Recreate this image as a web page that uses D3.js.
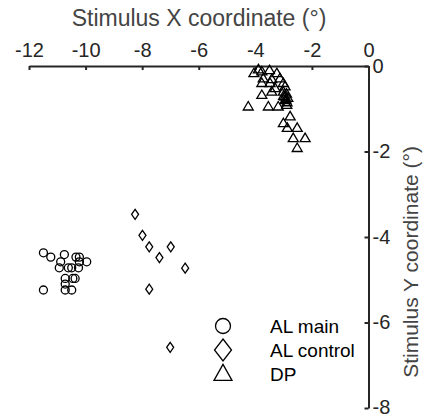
<!DOCTYPE html>
<html><head><meta charset="utf-8">
<script src="https://cdn.jsdelivr.net/npm/d3@7"></script>
<style>body{margin:0;background:#fff}svg{display:block}text{font-family:"Liberation Sans",Arial,sans-serif}</style>
</head><body><svg id="c" width="429" height="418"></svg>
<script>
const xTicks = [-12,-10,-8,-6,-4,-2,0];
const yTicks = [0,-2,-4,-6,-8];
const seriesNames = ["AL main","AL control","DP"];
const alMainX = [-11.49,-11.23,-10.75,-10.88,-10.34,-10.22,-9.96,-10.22,-10.93,-10.61,-10.49,-10.25,-10.72,-10.45,-10.37,-10.72,-10.72,-10.49,-11.49];
const alMainY = [-4.37,-4.47,-4.41,-4.58,-4.47,-4.47,-4.58,-4.58,-4.72,-4.72,-4.72,-4.72,-4.97,-4.97,-4.97,-5.10,-5.24,-5.24,-5.24];
const alCtrlX = [-8.25,-7.99,-7.75,-6.99,-7.39,-6.48,-7.75,-7.01];
const alCtrlY = [-3.47,-3.96,-4.23,-4.23,-4.48,-4.73,-5.22,-6.58];
const dpX = [-3.89,-3.50,-4.05,-3.77,-3.24,-3.72,-3.42,-3.13,-3.77,-3.48,-3.01,-3.30,-2.95,-3.77,-3.42,-3.01,-2.95,-4.25,-3.54,-3.19,-2.89,-2.77,-3.01,-2.87,-2.52,-2.66,-2.24,-2.52,-2.90,-2.85,-2.95,-2.88,-3.00,-2.92];
const dpY = [-0.08,-0.10,-0.17,-0.13,-0.17,-0.29,-0.31,-0.29,-0.40,-0.40,-0.40,-0.52,-0.48,-0.68,-0.60,-0.60,-0.72,-0.95,-0.95,-0.95,-0.91,-1.18,-1.34,-1.45,-1.45,-1.69,-1.69,-1.92,-0.65,-0.75,-0.80,-0.85,-0.70,-0.78];

const svg = d3.select("#c");
const x = d3.scaleLinear().domain([-12,0]).range([29,368.5]);
const y = d3.scaleLinear().domain([0,-8]).range([66,408]);
const axCol = "#262626";
const fmt = d => String(d);

const gx = svg.append("g").attr("transform",`translate(0,${y(0)})`)
  .call(d3.axisTop(x).tickValues(xTicks).tickFormat(fmt).tickSizeInner(-4).tickSizeOuter(0).tickPadding(9));
const gy = svg.append("g").attr("transform",`translate(${x(0)},0)`)
  .call(d3.axisRight(y).tickValues(yTicks).tickFormat(fmt).tickSizeInner(-4).tickSizeOuter(0).tickPadding(4));
[gx,gy].forEach(g=>{
  g.select(".domain").attr("stroke",axCol).attr("stroke-width",2);
  g.selectAll(".tick line").attr("stroke",axCol).attr("stroke-width",2);
  g.selectAll(".tick text").attr("fill",axCol).style("font-size","20px").style("font-family","Liberation Sans, Arial, sans-serif");
});
gy.selectAll(".tick text").filter(d=>d===-8).attr("dy","0.25em");

svg.append("text").attr("x",199).attr("y",26).attr("text-anchor","middle")
  .attr("fill","#444").style("font-size","23px").text("Stimulus X coordinate (°)");
svg.append("text").attr("transform",`translate(418,262) rotate(-90)`).attr("text-anchor","middle")
  .attr("fill","#444").style("font-size","21px").text("Stimulus Y coordinate (°)");

const sym = {
  circle: (s)=>{const r=s/2;return `M${r},0A${r},${r},0,1,1,${-r},0A${r},${r},0,1,1,${r},0Z`;},
  diamond: (w,h)=>`M0,${-h/2}L${w/2},0L0,${h/2}L${-w/2},0Z`,
  tri: (w,h)=>`M0,${-h*0.6}L${w/2},${h*0.4}L${-w/2},${h*0.4}Z`
};
const pts = svg.append("g").attr("fill","none").attr("stroke","#000").attr("stroke-width",1.3);
pts.selectAll(".c").data(d3.range(alMainX.length)).join("path")
  .attr("d",sym.circle(8)).attr("transform",i=>`translate(${x(alMainX[i])},${y(alMainY[i])})`);
pts.selectAll(".d").data(d3.range(alCtrlX.length)).join("path")
  .attr("d",sym.diamond(7,10)).attr("transform",i=>`translate(${x(alCtrlX[i])},${y(alCtrlY[i])})`);
pts.selectAll(".t").data(d3.range(dpX.length)).join("path")
  .attr("d",sym.tri(10,8.5)).attr("transform",i=>`translate(${x(dpX[i])},${y(dpY[i])})`);

const leg = svg.append("g");
const legShapes = [sym.circle(15), sym.diamond(17,22), sym.tri(18,16)];
seriesNames.forEach((n,i)=>{
  const cy = 326 + i*24;
  leg.append("path").attr("d",legShapes[i]).attr("transform",`translate(223,${cy})`)
    .attr("fill","none").attr("stroke","#000").attr("stroke-width",1.3);
  leg.append("text").attr("x",270).attr("y",cy+7).attr("fill","#000").style("font-size","19px").text(n);
});
</script></body></html>
